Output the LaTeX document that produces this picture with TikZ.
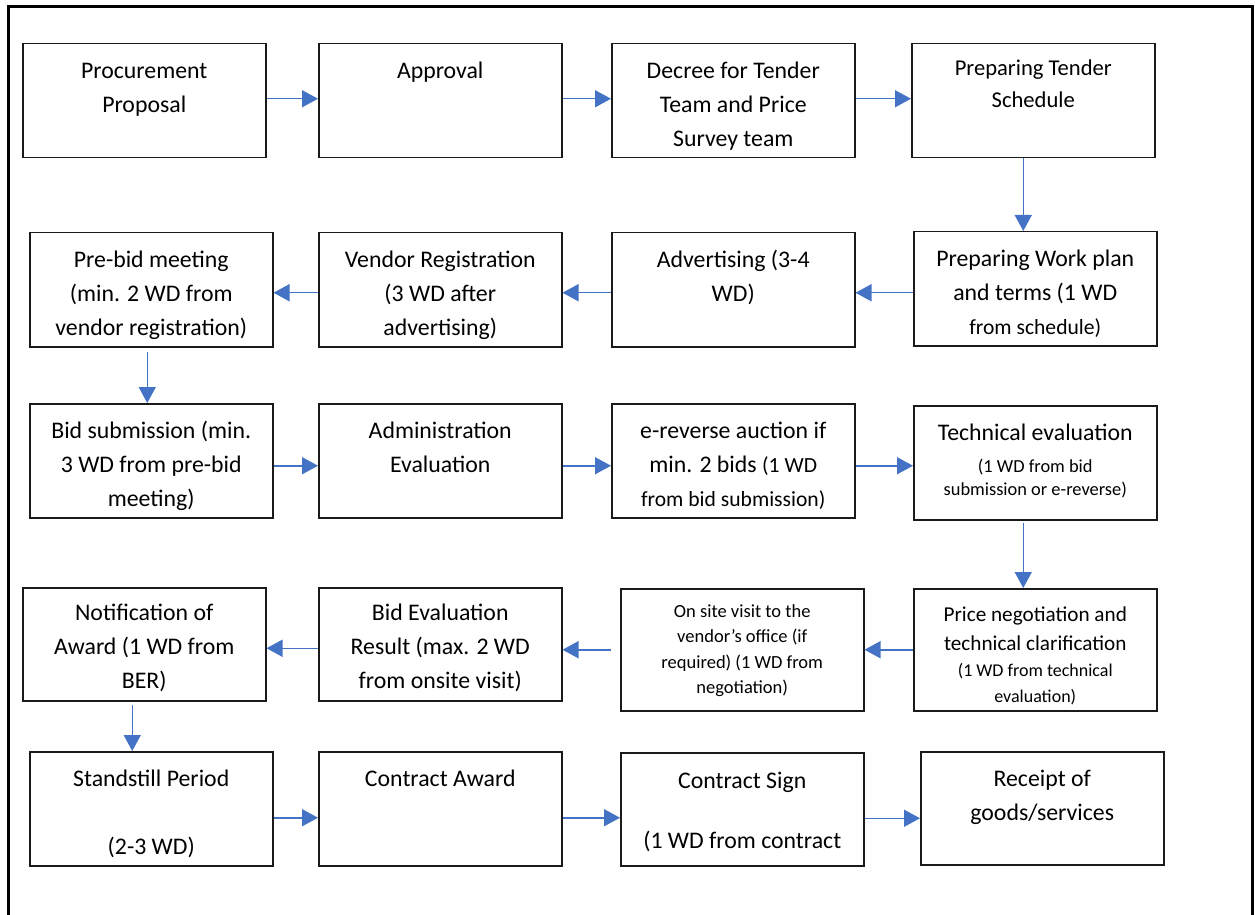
\documentclass[tikz,border=0pt]{standalone}
\usepackage{fontspec}
\setmainfont{Carlito}
\usetikzlibrary{arrows.meta}

\definecolor{Flow}{HTML}{4472C4}
\definecolor{Edge}{HTML}{1A1A1A}

% text of a box: [first baseline]{box height}{lines}
\newcommand{\inbox}[3][17.5pt]{\parbox[t][#2][t]{121.5pt}{\fontsize{11.9pt}{17pt}\selectfont\centering\rule{0pt}{#1}#3}}

\tikzset{
  stepbox/.style={draw=Edge, line width=0.75pt, inner sep=0pt, anchor=north west},
  flow/.style={draw=Flow, line width=0.75pt, -{Triangle[length=8pt,width=8.5pt]}},
}

\begin{document}
\begin{tikzpicture}[x=0.5pt, y=-0.5pt]

 \useasboundingbox (0,0) rectangle (1255,915);

 %%%%%%%%%% Frame %%%%%%%%%%
 \coordinate (f0) at (8,915);
 \coordinate (f1) at (8,7);
 \coordinate (f2) at (1252,7);
 \coordinate (f3) at (1252,915);
 \draw [line width=1.5pt] (f0) -- (f1) -- (f2) -- (f3) ;

 %%%%%%%%%% Row 1 %%%%%%%%%%
 \node[stepbox] (b1) at (22,43) {\inbox{57pt}{Procurement\\Proposal}};
 \node[stepbox] (b2) at (318,43) {\inbox{57pt}{Approval}};
 \node[stepbox] (b3) at (611,43) {\inbox{57pt}{Decree for Tender\\Team and Price\\Survey team}};
 \node[stepbox] (b4) at (911,43) {\inbox[16pt]{57pt}{\fontsize{11.3pt}{16pt}\selectfont Preparing Tender\\Schedule}};

 %%%%%%%%%% Row 2 %%%%%%%%%%
 \node[stepbox] (b5) at (29,232) {\inbox{57pt}{Pre-bid meeting\\(min. 2 WD from\\vendor registration)}};
 \node[stepbox] (b6) at (318,232) {\inbox{57pt}{Vendor Registration\\(3 WD after\\advertising)}};
 \node[stepbox] (b7) at (611,232) {\inbox{57pt}{Advertising (3-4\\WD)}};
 \node[stepbox] (b8) at (913,231) {\inbox{57pt}{Preparing Work plan\\and terms (1 WD\\{\fontsize{10.8pt}{17pt}\selectfont from schedule)}}};

 %%%%%%%%%% Row 3 %%%%%%%%%%
 \node[stepbox] (b9) at (29,403) {\inbox{57pt}{Bid submission (min.\\3 WD from pre-bid\\meeting)}};
 \node[stepbox] (b10) at (318,403) {\inbox{57pt}{Administration\\Evaluation}};
 \node[stepbox] (b11) at (611,403) {\inbox{57pt}{e-reverse auction if\\min. 2 bids {\fontsize{10.8pt}{17pt}\selectfont(1 WD}\\{\fontsize{10.8pt}{17pt}\selectfont from bid submission)}}};
 \node[stepbox] (b12) at (913,405) {\inbox{57pt}{Technical evaluation\par\vspace{4.3pt}{\fontsize{9.2pt}{11.5pt}\selectfont (1 WD from bid\\submission or e-reverse)\par}}};

 %%%%%%%%%% Row 4 %%%%%%%%%%
 \node[stepbox] (b13) at (22,587) {\inbox[16.5pt]{56.5pt}{Notification of\\Award (1 WD from\\BER)}};
 \node[stepbox] (b14) at (318,587) {\inbox[16.5pt]{56.5pt}{Bid Evaluation\\Result (max. 2 WD\\from onsite visit)}};
 \node[stepbox] (b15) at (620,588) {\inbox[14.3pt]{61pt}{\fontsize{9.25pt}{12.75pt}\selectfont On site visit to the\\vendor’s office (if\\required) (1 WD from\\negotiation)}};
 \node[stepbox] (b16) at (913,588) {\inbox[16.5pt]{61pt}{{\fontsize{10.6pt}{14.5pt}\selectfont Price negotiation and\\technical clarification\par}{\fontsize{9pt}{13pt}\selectfont (1 WD from technical\\evaluation)\par}}};

 %%%%%%%%%% Row 5 %%%%%%%%%%
 \node[stepbox] (b17) at (29,751) {\inbox{57pt}{Standstill Period\\[17pt](2-3 WD)}};
 \node[stepbox] (b18) at (318,751) {\inbox{57pt}{Contract Award}};
 \node[stepbox] (b19) at (620,752) {\inbox[18pt]{56.5pt}{Contract Sign\\[13pt](1 WD from contract}};
 \node[stepbox] (b20) at (920,751) {\inbox{56.5pt}{Receipt of\\goods/services}};

 %%%%%%%%%% Flow %%%%%%%%%%
 \draw [flow] ([yshift=1pt]b1.east) -- ([yshift=1pt]b1.east -| b2.west) ;
 \draw [flow] ([yshift=1pt]b2.east) -- ([yshift=1pt]b2.east -| b3.west) ;
 \draw [flow] ([yshift=1pt]b3.east) -- ([yshift=1pt]b3.east -| b4.west) ;
 \draw [flow] ([xshift=-5pt]b4.south) -- ([xshift=-5pt]b4.south |- b8.north) ;

 \draw [flow] ([yshift=-2pt]b8.west) -- ([yshift=-2pt]b8.west -| b7.east) ;
 \draw [flow] ([yshift=-1.5pt]b7.west) -- ([yshift=-1.5pt]b7.west -| b6.east) ;
 \draw [flow] ([yshift=-1.5pt]b6.west) -- ([yshift=-1.5pt]b6.west -| b5.east) ;
 \draw [flow, shorten <=2pt] ([xshift=-2pt]b5.south) -- ([xshift=-2pt]b5.south |- b9.north) ;

 \draw [flow] ([yshift=-2.5pt]b9.east) -- ([yshift=-2.5pt]b9.east -| b10.west) ;
 \draw [flow] ([yshift=-2.5pt]b10.east) -- ([yshift=-2.5pt]b10.east -| b11.west) ;
 \draw [flow] ([yshift=-2.5pt]b11.east) -- ([yshift=-2.5pt]b11.east -| b12.west) ;
 \draw [flow, shorten <=1pt] ([xshift=-6pt]b12.south) -- ([xshift=-6pt]b12.south |- b16.north) ;

 \draw [flow] (b16.west) -- (b16.west -| b15.east) ;
 \draw [flow, shorten <=4.5pt] (b15.west) -- (b15.west -| b14.east) ;
 \draw [flow] ([yshift=-2pt]b14.west) -- ([yshift=-2pt]b14.west -| b13.east) ;
 \draw [flow, shorten <=1.5pt] ([xshift=-6pt]b13.south) -- ([xshift=-6pt]b13.south |- b17.north) ;

 \draw [flow] ([yshift=-4.5pt]b17.east) -- ([yshift=-4.5pt]b17.east -| b18.west) ;
 \draw [flow] ([yshift=-4.5pt]b18.east) -- ([yshift=-4.5pt]b18.east -| b19.west) ;
 \draw [flow] ([yshift=-4.5pt]b19.east) -- ([yshift=-4.5pt]b19.east -| b20.west) ;

\end{tikzpicture}
\end{document}
